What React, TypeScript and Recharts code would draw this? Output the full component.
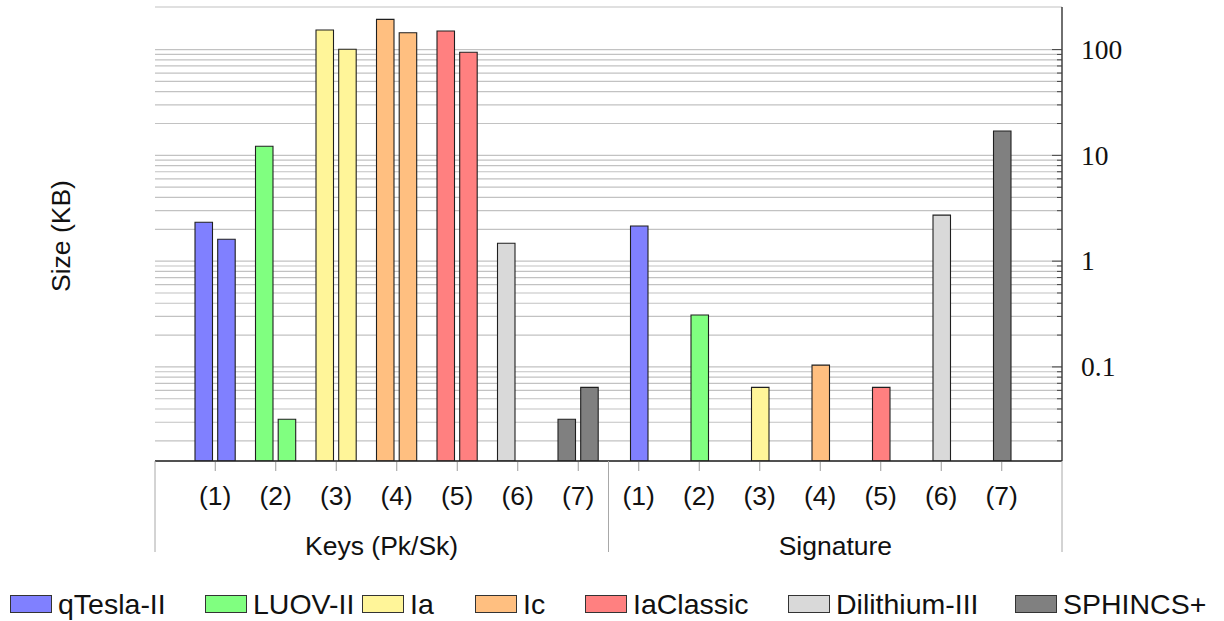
import React from 'react';
import { BarChart, Bar, XAxis, YAxis, CartesianGrid, Cell } from 'recharts';

// Scheme names (legend) and per-category values in KB
const SCHEMES = ['qTesla-II', 'LUOV-II', 'Ia', 'Ic', 'IaClassic', 'Dilithium-III', 'SPHINCS+'];
const CATEGORY_LABELS = ['(1)', '(2)', '(3)', '(4)', '(5)', '(6)', '(7)'];
const GROUP_LABELS = ['Keys (Pk/Sk)', 'Signature'];
const PK_SIZES = [2.33, 12.2, 153, 193, 150, 1.476, 0.032];
const SK_SIZES: (number | null)[] = [1.61, 0.032, 100.7, 144.5, 94.3, null, 0.064];
const SIG_SIZES = [2.15, 0.31, 0.064, 0.104, 0.064, 2.72, 17.0];

const Y_DOMAIN = [0.0129, 252.7];
const Y_MAJOR = [0.1, 1, 10, 100];
const Y_TICKS = [
  0.02, 0.03, 0.04, 0.05, 0.06, 0.07, 0.08, 0.09,
  0.1, 0.2, 0.3, 0.4, 0.5, 0.6, 0.7, 0.8, 0.9,
  1, 2, 3, 4, 5, 6, 7, 8, 9,
  10, 20, 30, 40, 50, 60, 70, 80, 90,
  100,
];

const COLORS = ['#8080ff', '#80ff80', '#fff599', '#ffbf80', '#ff8080', '#d9d9d9', '#808080'];

const SANS = '"Liberation Sans", Arial, Helvetica, sans-serif';
const SERIF = '"Liberation Serif", "Times New Roman", serif';
const FONT_SIZE = 26.5;
const LEGEND_FONT_SIZE = 28.5;
const BAND = 60.5;
const PAD = 30;
const LEGEND_X = [10, 205, 362, 475, 585, 788, 1015];

const data = [
  ...CATEGORY_LABELS.map((label, i) => ({
    id: `keys-${i}`,
    label,
    pk: PK_SIZES[i],
    sk: SK_SIZES[i],
    sig: null as number | null,
  })),
  ...CATEGORY_LABELS.map((label, i) => ({
    id: `sig-${i}`,
    label,
    pk: null as number | null,
    sk: null as number | null,
    sig: SIG_SIZES[i],
  })),
];

const sansText = { fontFamily: SANS, fontSize: FONT_SIZE };

const separator = (x: number, y: number) => (
  <line x1={x} y1={y} x2={x} y2={y + 91} stroke="#a8a8a8" strokeWidth={1} />
);

const renderCategoryTick = (props: any) => {
  const { x, y, payload } = props;
  const index = props.index ?? payload.index;
  const row = data[index];
  const last = data.length - 1;
  const half = CATEGORY_LABELS.length;
  return (
    <g>
      <line x1={x} y1={y + 1} x2={x} y2={y + 10} stroke="#9a9a9a" strokeWidth={1} />
      <text x={x} y={y + 44} textAnchor="middle" fontFamily={SANS} style={sansText} fill="#111">
        {row ? row.label : ''}
      </text>
      {index === 0 && separator(x - BAND / 2 - PAD, y)}
      {index === half - 1 && separator(x + BAND / 2, y)}
      {index === last && separator(x + BAND / 2 + PAD, y)}
      {index === 3 && (
        <text x={x - BAND / 4} y={y + 94} textAnchor="middle" style={sansText} fill="#111">
          {GROUP_LABELS[0]}
        </text>
      )}
      {index === half + 3 && (
        <text x={x + BAND / 4} y={y + 94} textAnchor="middle" style={sansText} fill="#111">
          {GROUP_LABELS[1]}
        </text>
      )}
    </g>
  );
};

const renderSizeTick = (props: any) => {
  const { x, y, payload } = props;
  const major = Y_MAJOR.includes(payload.value);
  return (
    <g>
      <line x1={x - (major ? 10 : 5)} y1={y} x2={x} y2={y} stroke="#444" strokeWidth={1} />
      {major && (
        <text
          x={x + 19}
          y={y}
          dy="0.34em"
          textAnchor="start"
          style={{ fontFamily: SERIF, fontSize: 27.5 }}
          fill="#111"
        >
          {String(payload.value)}
        </text>
      )}
    </g>
  );
};

const SizeLabel = () => (
  <text
    x={70}
    y={236}
    transform="rotate(-90 70 236)"
    textAnchor="middle"
    style={sansText}
    fill="#111"
  >
    Size (KB)
  </text>
);

const frameLine = { stroke: '#222', strokeWidth: 1.3 };

const App: React.FC = () => {
  return (
    <div
      style={{
        position: 'absolute',
        left: 0,
        top: 0,
        width: 1224,
        height: 621,
        background: '#fff',
        fontFamily: SANS,
      }}
    >
      <BarChart
        width={1224}
        height={621}
        data={data}
        margin={{ top: 7, right: 0, bottom: 60, left: 155 }}
        barGap={5.2}
        style={{ fontFamily: SANS }}
      >
        <CartesianGrid
          xAxisId="keys"
          yAxisId="size"
          vertical={false}
          stroke="#c2c2c2"
          strokeWidth={1.2}
        />
        <XAxis
          xAxisId="keys"
          dataKey="id"
          type="category"
          padding={{ left: PAD, right: PAD }}
          height={100}
          interval={0}
          tickSize={0}
          tickMargin={0}
          tickLine={false}
          axisLine={frameLine}
          tick={renderCategoryTick}
        />
        <XAxis xAxisId="sig" dataKey="id" type="category" padding={{ left: PAD, right: PAD }} hide />
        <XAxis
          xAxisId="top"
          orientation="top"
          dataKey="id"
          type="category"
          height={0}
          tick={false}
          tickLine={false}
          axisLine={frameLine}
        />
        <YAxis
          yAxisId="size"
          orientation="right"
          type="number"
          scale="log"
          domain={Y_DOMAIN}
          allowDataOverflow
          ticks={Y_TICKS}
          interval={0}
          width={162}
          tickSize={0}
          tickMargin={0}
          tickLine={false}
          axisLine={frameLine}
          tick={renderSizeTick}
          label={<SizeLabel />}
        />
        <YAxis
          yAxisId="frame"
          orientation="left"
          type="number"
          scale="log"
          domain={Y_DOMAIN}
          allowDataOverflow
          width={0}
          tick={false}
          tickLine={false}
          axisLine={frameLine}
        />
        <Bar xAxisId="keys" yAxisId="size" dataKey="pk" barSize={17.5} stroke="#1f1f1f" strokeWidth={1.1} isAnimationActive={false}>
          {data.map((row, i) => (
            <Cell key={row.id} fill={COLORS[i % COLORS.length]} />
          ))}
        </Bar>
        <Bar xAxisId="keys" yAxisId="size" dataKey="sk" barSize={17.5} stroke="#1f1f1f" strokeWidth={1.1} isAnimationActive={false}>
          {data.map((row, i) => (
            <Cell key={row.id} fill={COLORS[i % COLORS.length]} />
          ))}
        </Bar>
        <Bar xAxisId="sig" yAxisId="size" dataKey="sig" barSize={17.5} stroke="#1f1f1f" strokeWidth={1.1} isAnimationActive={false}>
          {data.map((row, i) => (
            <Cell key={row.id} fill={COLORS[i % COLORS.length]} />
          ))}
        </Bar>
      </BarChart>

      {/* Legend */}
      {SCHEMES.map((name, i) => (
        <div
          key={name}
          style={{
            position: 'absolute',
            left: LEGEND_X[i],
            top: 589,
            height: 30,
            display: 'flex',
            alignItems: 'center',
            whiteSpace: 'nowrap',
          }}
        >
          <span
            style={{
              display: 'inline-block',
              width: 40,
              height: 16,
              background: COLORS[i],
              border: '1px solid #333',
              marginRight: 6,
            }}
          />
          <span style={{ fontSize: LEGEND_FONT_SIZE, color: '#111', lineHeight: '30px' }}>{name}</span>
        </div>
      ))}
    </div>
  );
};

export default App;
